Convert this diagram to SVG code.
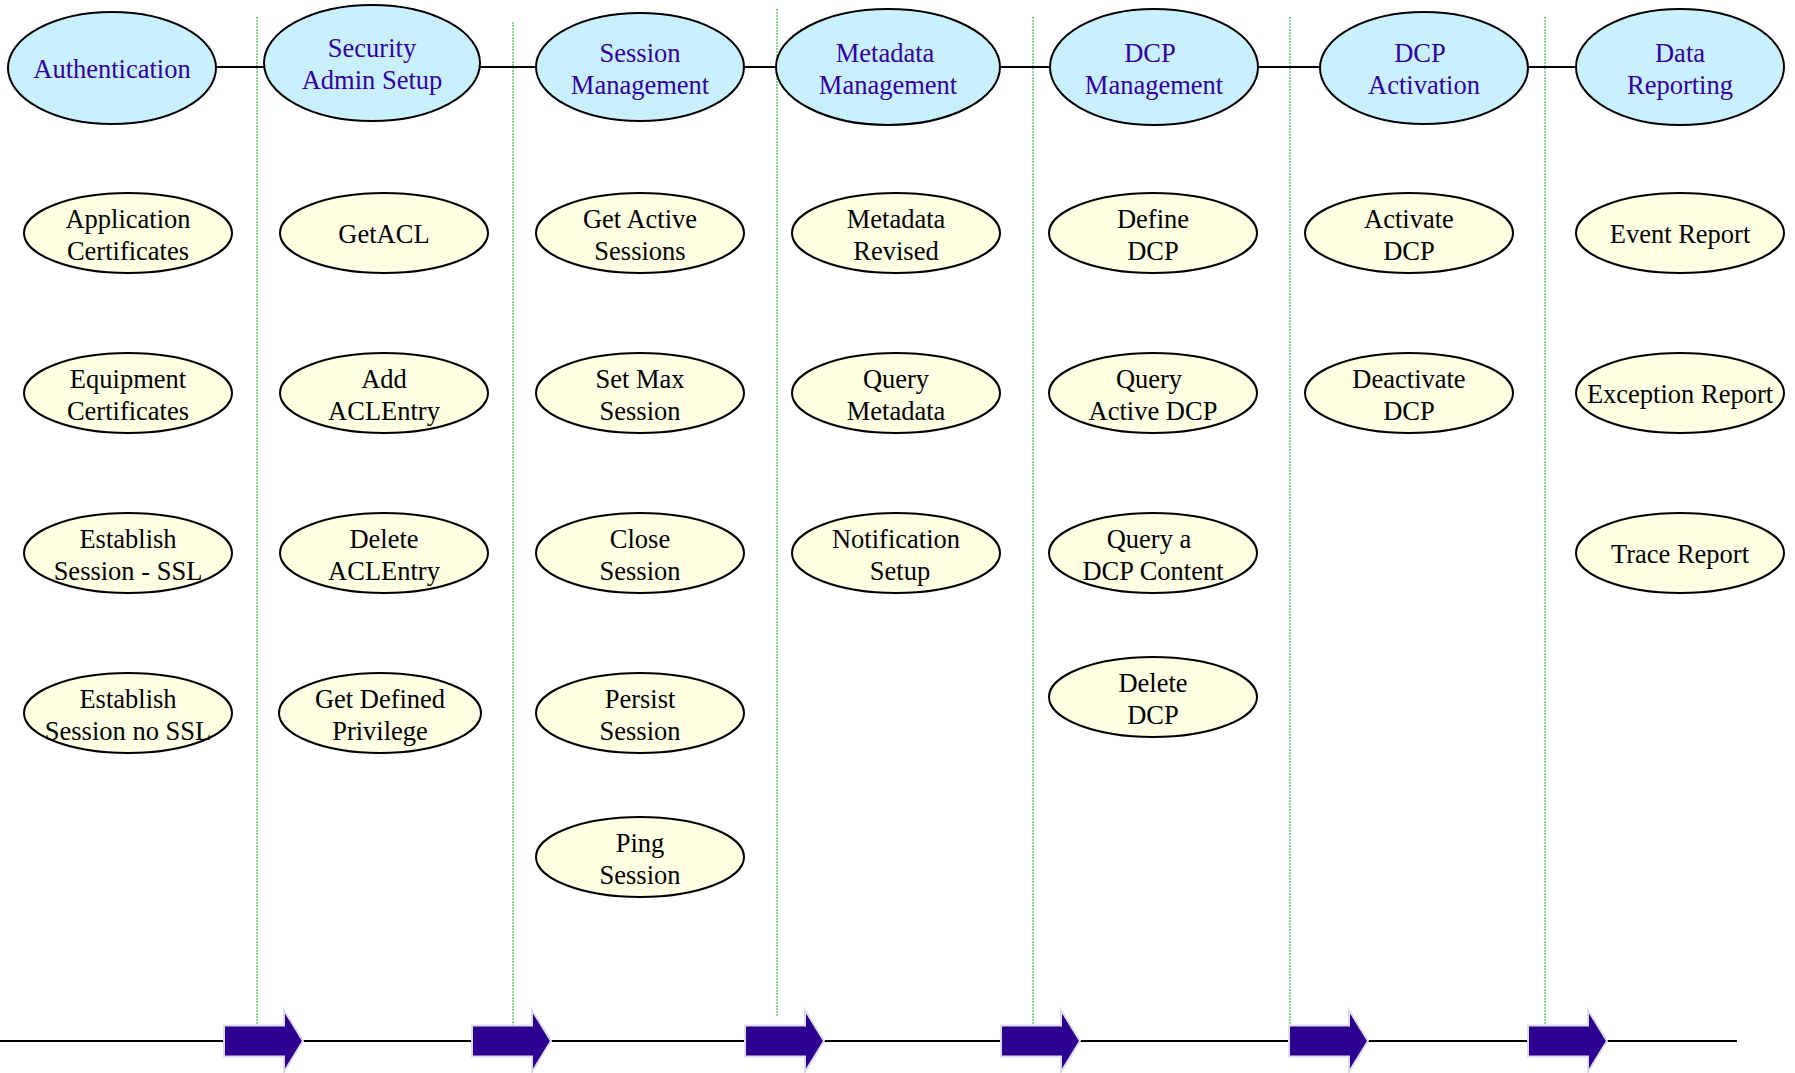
<svg xmlns="http://www.w3.org/2000/svg" width="1795" height="1073" viewBox="0 0 1795 1073">
<style>
.top ellipse{fill:#C9F0FF;stroke:#000;stroke-width:2}
.sub ellipse{fill:#FFFFE3;stroke:#000;stroke-width:2}
text{font-family:"Liberation Serif","Times New Roman",serif;font-size:26.5px;text-anchor:middle}
.top text{fill:#3300A0}
.sub text{fill:#000}
.lane{stroke:#22AA22;stroke-width:1;stroke-dasharray:2,1;fill:none}
.conn{stroke:#000;stroke-width:2;fill:none}
.arr{fill:#2E0090;stroke:#DDDDEE;stroke-width:2}
</style>
<defs>
<path id="blk" d="M0,-15.5 L60,-15.5 L60,-31 L79,0 L60,31 L60,15.5 L0,15.5 Z"/>
</defs>
<rect width="1795" height="1073" fill="#fff"/>
<g id="lanes">
<line class="lane" x1="257" y1="17" x2="257" y2="1025"/>
<line class="lane" x1="513" y1="22" x2="513" y2="1025"/>
<line class="lane" x1="777" y1="9" x2="777" y2="1017"/>
<line class="lane" x1="1033" y1="17" x2="1033" y2="1025"/>
<line class="lane" x1="1290" y1="17" x2="1290" y2="1025"/>
<line class="lane" x1="1545" y1="17" x2="1545" y2="1025"/>
</g>
<g id="connectors">
<line class="conn" x1="216" y1="67" x2="265" y2="67"/>
<line class="conn" x1="480" y1="67" x2="536" y2="67"/>
<line class="conn" x1="744" y1="67" x2="777" y2="67"/>
<line class="conn" x1="1000" y1="67" x2="1050" y2="67"/>
<line class="conn" x1="1258" y1="67" x2="1321" y2="67"/>
<line class="conn" x1="1528" y1="67" x2="1576" y2="67"/>
<line class="conn" x1="0" y1="1041" x2="1737" y2="1041"/>
<use href="#blk" class="arr" x="224" y="1041"/>
<use href="#blk" class="arr" x="472" y="1041"/>
<use href="#blk" class="arr" x="745" y="1041"/>
<use href="#blk" class="arr" x="1001" y="1041"/>
<use href="#blk" class="arr" x="1289" y="1041"/>
<use href="#blk" class="arr" x="1528" y="1041"/>
</g>
<g id="authentication" class="top"><ellipse cx="112" cy="68" rx="104" ry="56"/><text x="112" y="78">Authentication</text></g>
<g id="security-admin-setup" class="top"><ellipse cx="372" cy="63" rx="108" ry="58"/><text x="372" y="57">Security</text><text x="372" y="89">Admin Setup</text></g>
<g id="session-management" class="top"><ellipse cx="640" cy="67" rx="104" ry="54"/><text x="640" y="62">Session</text><text x="640" y="94">Management</text></g>
<g id="metadata-management" class="top"><ellipse cx="888" cy="67" rx="112" ry="58"/><text x="885" y="62">Metadata</text><text x="888" y="94">Management</text></g>
<g id="dcp-management" class="top"><ellipse cx="1154" cy="67" rx="104" ry="58"/><text x="1150" y="62">DCP</text><text x="1154" y="94">Management</text></g>
<g id="dcp-activation" class="top"><ellipse cx="1424" cy="68" rx="104" ry="56"/><text x="1420" y="62">DCP</text><text x="1424" y="94">Activation</text></g>
<g id="data-reporting" class="top"><ellipse cx="1680" cy="67" rx="104" ry="58"/><text x="1680" y="62">Data</text><text x="1680" y="94">Reporting</text></g>

<g id="application-certificates" class="sub"><ellipse cx="128" cy="233" rx="104" ry="40"/><text x="128" y="228">Application</text><text x="128" y="260">Certificates</text></g>
<g id="equipment-certificates" class="sub"><ellipse cx="128" cy="393" rx="104" ry="40"/><text x="128" y="388">Equipment</text><text x="128" y="420">Certificates</text></g>
<g id="establish-session-ssl" class="sub"><ellipse cx="128" cy="553" rx="104" ry="40"/><text x="128" y="548">Establish</text><text x="128" y="580">Session - SSL</text></g>
<g id="establish-session-no-ssl" class="sub"><ellipse cx="128" cy="713" rx="104" ry="40"/><text x="128" y="708">Establish</text><text x="128" y="740">Session no SSL</text></g>

<g id="getacl" class="sub"><ellipse cx="384" cy="233" rx="104" ry="40"/><text x="384" y="243">GetACL</text></g>
<g id="add-aclentry" class="sub"><ellipse cx="384" cy="393" rx="104" ry="40"/><text x="384" y="388">Add</text><text x="384" y="420">ACLEntry</text></g>
<g id="delete-aclentry" class="sub"><ellipse cx="384" cy="553" rx="104" ry="40"/><text x="384" y="548">Delete</text><text x="384" y="580">ACLEntry</text></g>
<g id="get-defined-privilege" class="sub"><ellipse cx="380" cy="713" rx="101" ry="40"/><text x="380" y="708">Get Defined</text><text x="380" y="740">Privilege</text></g>

<g id="get-active-sessions" class="sub"><ellipse cx="640" cy="233" rx="104" ry="40"/><text x="640" y="228">Get Active</text><text x="640" y="260">Sessions</text></g>
<g id="set-max-session" class="sub"><ellipse cx="640" cy="393" rx="104" ry="40"/><text x="640" y="388">Set Max</text><text x="640" y="420">Session</text></g>
<g id="close-session" class="sub"><ellipse cx="640" cy="553" rx="104" ry="40"/><text x="640" y="548">Close</text><text x="640" y="580">Session</text></g>
<g id="persist-session" class="sub"><ellipse cx="640" cy="713" rx="104" ry="40"/><text x="640" y="708">Persist</text><text x="640" y="740">Session</text></g>
<g id="ping-session" class="sub"><ellipse cx="640" cy="857" rx="104" ry="40"/><text x="640" y="852">Ping</text><text x="640" y="884">Session</text></g>

<g id="metadata-revised" class="sub"><ellipse cx="896" cy="233" rx="104" ry="40"/><text x="896" y="228">Metadata</text><text x="896" y="260">Revised</text></g>
<g id="query-metadata" class="sub"><ellipse cx="896" cy="393" rx="104" ry="40"/><text x="896" y="388">Query</text><text x="896" y="420">Metadata</text></g>
<g id="notification-setup" class="sub"><ellipse cx="896" cy="553" rx="104" ry="40"/><text x="896" y="548">Notification</text><text x="900" y="580">Setup</text></g>

<g id="define-dcp" class="sub"><ellipse cx="1153" cy="233" rx="104" ry="40"/><text x="1153" y="228">Define</text><text x="1153" y="260">DCP</text></g>
<g id="query-active-dcp" class="sub"><ellipse cx="1153" cy="393" rx="104" ry="40"/><text x="1149" y="388">Query</text><text x="1153" y="420">Active DCP</text></g>
<g id="query-dcp-content" class="sub"><ellipse cx="1153" cy="553" rx="104" ry="40"/><text x="1149" y="548">Query a</text><text x="1153" y="580">DCP Content</text></g>
<g id="delete-dcp" class="sub"><ellipse cx="1153" cy="697" rx="104" ry="40"/><text x="1153" y="692">Delete</text><text x="1153" y="724">DCP</text></g>

<g id="activate-dcp" class="sub"><ellipse cx="1409" cy="233" rx="104" ry="40"/><text x="1409" y="228">Activate</text><text x="1409" y="260">DCP</text></g>
<g id="deactivate-dcp" class="sub"><ellipse cx="1409" cy="393" rx="104" ry="40"/><text x="1409" y="388">Deactivate</text><text x="1409" y="420">DCP</text></g>

<g id="event-report" class="sub"><ellipse cx="1680" cy="233" rx="104" ry="40"/><text x="1680" y="243">Event Report</text></g>
<g id="exception-report" class="sub"><ellipse cx="1680" cy="393" rx="104" ry="40"/><text x="1680" y="403">Exception Report</text></g>
<g id="trace-report" class="sub"><ellipse cx="1680" cy="553" rx="104" ry="40"/><text x="1680" y="563">Trace Report</text></g>
</svg>
